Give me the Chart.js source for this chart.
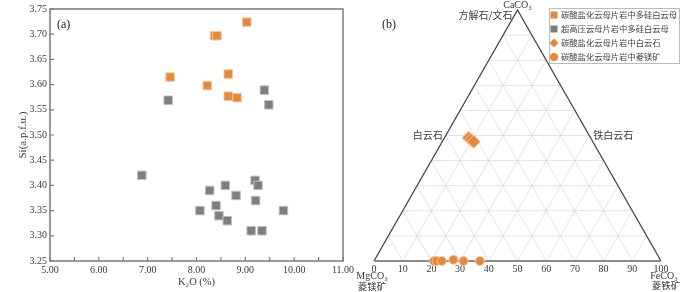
<!DOCTYPE html>
<html>
<head>
<meta charset="utf-8">
<script src="https://cdn.jsdelivr.net/npm/chart.js@4"></script>
<style>
  html, body { margin: 0; padding: 0; background: #fff; }
  #wrap { position: relative; width: 700px; height: 292px; }
  canvas { position: absolute; top: 0; }
  #chartA { left: 0; }
  #chartB { left: 340px; }
</style>
</head>
<body>
<div id="wrap">
  <canvas id="chartA" width="360" height="292"></canvas>
  <canvas id="chartB" width="360" height="292"></canvas>
</div>
<script>
// (a) K2O vs Si of phengite
var carbPhengiteK2O = [9.03, 8.37, 8.42, 7.46, 8.22, 8.65, 8.65, 8.83];
var carbPhengiteSi  = [3.724, 3.697, 3.697, 3.615, 3.598, 3.621, 3.577, 3.574];
var uhpPhengiteK2O = [7.42, 9.39, 9.48, 6.88, 8.27, 8.59, 8.40, 8.07, 8.46, 8.63, 8.81, 9.20, 9.26, 9.21, 9.12, 9.34, 9.78];
var uhpPhengiteSi  = [3.569, 3.589, 3.560, 3.42, 3.39, 3.40, 3.36, 3.35, 3.34, 3.33, 3.38, 3.41, 3.40, 3.37, 3.31, 3.31, 3.35];

// (b) ternary CaCO3 - MgCO3 - FeCO3 (mol %)
var dolomiteCa = [49.1, 48.3, 47.5];
var dolomiteFe = [8.4, 9.6, 11.0];
var magnesiteCa = [0, 0, 0, 0.5, 0, 0];
var magnesiteFe = [20.9, 21.8, 23.6, 27.4, 31.2, 36.9];

var legendLabels = ["碳酸盐化云母片岩中多硅白云母", "超高压云母片岩中多硅白云母", "碳酸盐化云母片岩中白云石", "碳酸盐化云母片岩中菱镁矿"];

var orange = "#E4883B", orangeEdge = "#F3C79C";
var gray = "#7E7E7E", grayEdge = "#BEBEBE";
var serif = "'Liberation Serif', 'DejaVu Serif', serif";
var cjk = "'Noto Sans CJK SC', sans-serif";
var txt = "#3a3a3a";

function pts(xs, ys) {
  var out = [];
  for (var i = 0; i < xs.length; i++) out.push({x: xs[i], y: ys[i]});
  return out;
}

// ---------- panel (a) ----------
var framePlugin = {
  id: "frameA",
  beforeDatasetsDraw: function(chart) {
    var ctx = chart.ctx, a = chart.chartArea, sx = chart.scales.x, sy = chart.scales.y;
    ctx.save();
    ctx.strokeStyle = "#7a7a7a";
    ctx.lineWidth = 1.5;
    ctx.strokeRect(a.left, a.top, a.right - a.left, a.bottom - a.top);
    ctx.lineWidth = 1.2;
    ctx.beginPath();
    sx.ticks.forEach(function(t) {
      var px = sx.getPixelForValue(t.value);
      ctx.moveTo(px, a.bottom); ctx.lineTo(px, a.bottom - 4);
    });
    sy.ticks.forEach(function(t) {
      var py = sy.getPixelForValue(t.value);
      ctx.moveTo(a.left, py); ctx.lineTo(a.left + 4, py);
    });
    ctx.stroke();
    ctx.fillStyle = "#222";
    ctx.font = "12px " + serif;
    ctx.textBaseline = "middle";
    ctx.fillText("(a)", 57, 25);
    ctx.restore();
  }
};

new Chart(document.getElementById("chartA"), {
  type: "scatter",
  data: {
    datasets: [
      {label: legendLabels[0], data: pts(carbPhengiteK2O, carbPhengiteSi), pointStyle: "rect", pointRadius: 6,
       backgroundColor: orange, borderColor: orangeEdge, borderWidth: 1},
      {label: legendLabels[1], data: pts(uhpPhengiteK2O, uhpPhengiteSi), pointStyle: "rect", pointRadius: 6,
       backgroundColor: gray, borderColor: grayEdge, borderWidth: 1}
    ]
  },
  options: {
    responsive: false,
    animation: false,
    layout: {padding: {left: 0, right: 17, top: 9, bottom: 0}},
    plugins: {legend: {display: false}, tooltip: {enabled: false}},
    scales: {
      x: {
        type: "linear", min: 5, max: 11,
        grid: {display: false, drawTicks: false}, border: {display: false},
        ticks: {stepSize: 0.5, autoSkip: false, maxRotation: 0, padding: 3, color: txt, font: {family: serif, size: 10},
          callback: function(v) { return Math.abs(v - Math.round(v)) < 1e-6 ? v.toFixed(2) : ""; }},
        title: {display: true, text: "K₂O (%)", color: txt, font: {family: serif, size: 10.5}, padding: {top: 0, bottom: 3.7}},
        afterFit: function(s) { s.height = 31; }
      },
      y: {
        type: "linear", min: 3.25, max: 3.75,
        grid: {display: false, drawTicks: false}, border: {display: false},
        ticks: {stepSize: 0.05, padding: 3, color: txt, font: {family: serif, size: 10},
          callback: function(v) { return v.toFixed(2); }},
        title: {display: true, text: "Si(a.p.f.u.)", color: txt, font: {family: serif, size: 11}, padding: {top: 17, bottom: 0}},
        afterFit: function(s) { s.width = 50; }
      }
    }
  },
  plugins: [framePlugin]
});

// ---------- panel (b) ternary ----------
// ternary point -> chart coords: x = Fe + Ca/2, y = Ca
function tern(fe, ca) { return {x: fe + ca / 2, y: ca}; }
function ternPts(fes, cas) {
  var out = [];
  for (var i = 0; i < fes.length; i++) out.push(tern(fes[i], cas[i]));
  return out;
}

var gridSets = [];
for (var v = 10; v < 100; v += 10) {
  gridSets.push([tern(0, v), tern(100 - v, v)]);        // CaCO3 constant
  gridSets.push([tern(v, 0), tern(v, 100 - v)]);        // FeCO3 constant
  gridSets.push([tern(100 - v, 0), tern(0, 100 - v)]);  // MgCO3 constant
}

var ternDatasets = [
  {label: legendLabels[2], data: ternPts(dolomiteFe, dolomiteCa), pointStyle: "rectRot", pointRadius: 6.5,
   backgroundColor: orange, borderColor: orangeEdge, borderWidth: 1, clip: false},
  {label: legendLabels[3], data: ternPts(magnesiteFe, magnesiteCa), pointStyle: "circle", pointRadius: 4.5,
   backgroundColor: orange, borderColor: orangeEdge, borderWidth: 1, clip: false},
  {data: [tern(0, 0), tern(100, 0)], showLine: true, pointRadius: 0, borderColor: "#8c8c8c", borderWidth: 2.2, clip: false},
  {data: [tern(0, 0), tern(0, 100), tern(100, 0)], showLine: true, pointRadius: 0, borderColor: "#444", borderWidth: 1.3, clip: false}
];
gridSets.forEach(function(g) {
  ternDatasets.push({data: g, showLine: true, pointRadius: 0, borderColor: "rgba(200,185,190,0.55)", borderWidth: 0.8});
});

var ternPlugin = {
  id: "ternText",
  afterDraw: function(chart) {
    var ctx = chart.ctx, sx = chart.scales.x, sy = chart.scales.y;
    function px(fe, ca) { var p = tern(fe, ca); return [sx.getPixelForValue(p.x), sy.getPixelForValue(p.y)]; }
    var apex = px(0, 100), left = px(0, 0), right = px(100, 0), midL = px(0, 50), midR = px(50, 50);
    ctx.save();
    ctx.fillStyle = txt;
    ctx.textBaseline = "middle";
    ctx.textAlign = "center";
    ctx.font = "10px " + serif;
    ctx.fillText("CaCO₃", apex[0], 5);
    ctx.fillText("MgCO₃", left[0] - 2, 276.5);
    ctx.fillText("FeCO₃", right[0] + 3, 276);
    ctx.font = "9.5px " + cjk;
    ctx.fillText("菱镁矿", left[0] - 2, 286);
    ctx.fillText("菱铁矿", right[0] + 5, 285);
    ctx.textAlign = "right";
    ctx.font = "10px " + cjk;
    ctx.fillText("方解石/文石", apex[0] - 5, 15);
    ctx.fillText("白云石", midL[0] - 3, midL[1]);
    ctx.textAlign = "left";
    ctx.fillText("铁白云石", midR[0] + 4, midR[1]);
    ctx.font = "12px " + serif;
    ctx.fillStyle = "#222";
    ctx.fillText("(b)", 42, 25);

    // legend box
    var bx = 209, by = 8, bw = 130, bh = 55;
    ctx.strokeStyle = "#777";
    ctx.lineWidth = 1;
    ctx.setLineDash([1, 1]);
    ctx.strokeRect(bx + 0.5, by + 0.5, bw, bh);
    ctx.setLineDash([]);
    var rows = [15, 29, 43, 57];
    var mx = 214;
    ctx.fillStyle = orange; ctx.fillRect(mx - 3.5, rows[0] - 3.5, 7, 7);
    ctx.fillStyle = gray; ctx.fillRect(mx - 3.5, rows[1] - 3.5, 7, 7);
    ctx.fillStyle = orange;
    ctx.beginPath();
    ctx.moveTo(mx, rows[2] - 4.5); ctx.lineTo(mx + 4.5, rows[2]); ctx.lineTo(mx, rows[2] + 4.5); ctx.lineTo(mx - 4.5, rows[2]);
    ctx.closePath(); ctx.fill();
    ctx.beginPath(); ctx.arc(mx, rows[3], 4, 0, Math.PI * 2); ctx.fill();
    ctx.fillStyle = "#444";
    ctx.font = "8.3px " + cjk;
    ctx.textAlign = "left";
    for (var i = 0; i < legendLabels.length; i++) ctx.fillText(legendLabels[i], 221, rows[i]);
    ctx.restore();
  }
};

new Chart(document.getElementById("chartB"), {
  type: "scatter",
  data: {datasets: ternDatasets},
  options: {
    responsive: false,
    animation: false,
    layout: {padding: {left: 34, right: 39, top: 10, bottom: 0}},
    plugins: {legend: {display: false}, tooltip: {enabled: false}},
    scales: {
      x: {
        type: "linear", min: 0, max: 100,
        grid: {display: false, drawTicks: false}, border: {display: false},
        ticks: {stepSize: 10, autoSkip: false, maxRotation: 0, padding: 2, color: txt, font: {family: serif, size: 10}},
        afterFit: function(s) { s.height = 31; }
      },
      y: {type: "linear", min: 0, max: 100, display: false}
    }
  },
  plugins: [ternPlugin]
});
</script>
</body>
</html>
